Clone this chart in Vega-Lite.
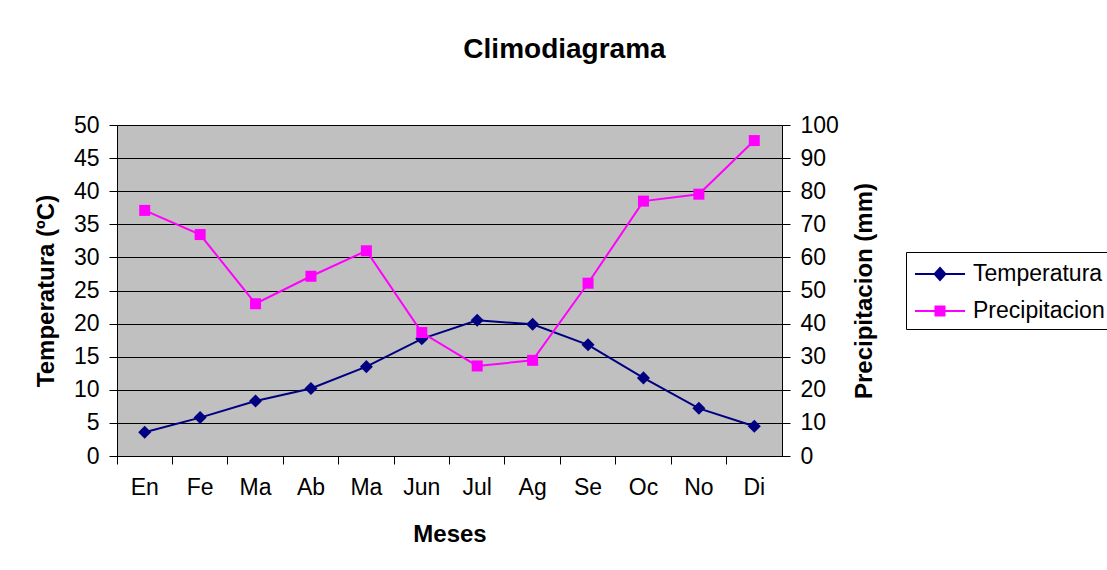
{
  "$schema": "https://vega.github.io/schema/vega-lite/v6.json",
  "autosize": "none",
  "width": 665,
  "height": 331,
  "padding": {"left": 117, "top": 125, "right": 325, "bottom": 114},
  "background": "white",
  "title": {"text": "Climodiagrama", "fontSize": 28, "fontWeight": "bold", "font": "Liberation Sans", "color": "black", "anchor": "middle", "frame": "group", "dx": 115, "offset": 50},
  "data": {"values": [
    {"mes": "En", "temperatura": 3.6, "precipitacion": 74.2},
    {"mes": "Fe", "temperatura": 5.8, "precipitacion": 66.9},
    {"mes": "Mar", "temperatura": 8.3, "precipitacion": 46.0},
    {"mes": "Ab", "temperatura": 10.2, "precipitacion": 54.3},
    {"mes": "May", "temperatura": 13.5, "precipitacion": 62.0},
    {"mes": "Jun", "temperatura": 17.7, "precipitacion": 37.3},
    {"mes": "Jul", "temperatura": 20.5, "precipitacion": 27.2},
    {"mes": "Ag", "temperatura": 19.9, "precipitacion": 28.9},
    {"mes": "Se", "temperatura": 16.8, "precipitacion": 52.2},
    {"mes": "Oc", "temperatura": 11.8, "precipitacion": 77.0},
    {"mes": "No", "temperatura": 7.2, "precipitacion": 79.1},
    {"mes": "Di", "temperatura": 4.5, "precipitacion": 95.3}
  ]},
  "encoding": {
    "x": {
      "field": "mes", "type": "ordinal", "sort": null, "bandPosition": 0.5,
      "scale": {"type": "band", "paddingInner": 0, "paddingOuter": 0},
      "axis": {
        "title": "Meses", "bandPosition": 0, "labelAngle": 0, "labelOffset": 0,
        "labelExpr": "datum.label == 'Mar' || datum.label == 'May' ? 'Ma' : datum.label",
        "tickSize": 8, "labelPadding": 12, "titlePadding": 23
      }
    }
  },
  "layer": [
    {
      "encoding": {
        "y": {
          "field": "temperatura", "type": "quantitative",
          "scale": {"domain": [0, 50], "nice": false, "zero": true},
          "axis": {
            "orient": "left", "title": "Temperatura (ºC)",
            "values": [0, 5, 10, 15, 20, 25, 30, 35, 40, 45, 50],
            "grid": true, "gridColor": "black", "gridOpacity": 1, "gridWidth": 1,
            "tickSize": 8, "labelPadding": 10, "titlePadding": 15
          }
        },
        "color": {
          "datum": "Temperatura",
          "scale": {"domain": ["Temperatura", "Precipitacion"], "range": ["#000080", "#FF00FF"]},
          "legend": {
            "title": null,
            "encode": {
              "symbols": {
                "update": {
                  "shape": {"signal": "datum.value == 'Temperatura' ? 'M-1.67,0H1.67M0,-0.4L0.36,0L0,0.4L-0.36,0Z' : 'M-1.67,0H1.67M-0.3,-0.3H0.3V0.3H-0.3Z'"},
                  "fill": {"signal": "scale('color', datum.value)"},
                  "stroke": {"signal": "scale('color', datum.value)"},
                  "strokeWidth": {"value": 2},
                  "opacity": {"value": 1}
                }
              }
            }
          }
        }
      },
      "layer": [
        {"mark": {"type": "line", "strokeWidth": 2}},
        {"mark": {"type": "point", "shape": "diamond", "filled": true, "size": 170, "opacity": 1}}
      ]
    },
    {
      "encoding": {
        "y": {
          "field": "precipitacion", "type": "quantitative",
          "scale": {"domain": [0, 100], "nice": false, "zero": true},
          "axis": {
            "orient": "right", "title": "Precipitacion (mm)",
            "values": [0, 10, 20, 30, 40, 50, 60, 70, 80, 90, 100],
            "grid": false, "tickSize": 8, "labelPadding": 10, "titlePadding": 38, "titleAngle": 270
          }
        },
        "color": {"datum": "Precipitacion"}
      },
      "layer": [
        {"mark": {"type": "line", "strokeWidth": 2}},
        {"mark": {"type": "point", "shape": "square", "filled": true, "size": 121, "opacity": 1}}
      ]
    }
  ],
  "resolve": {"scale": {"y": "independent"}},
  "config": {
    "font": "Liberation Sans",
    "view": {"fill": "#C0C0C0", "stroke": "#808080"},
    "axis": {
      "labelFont": "Liberation Sans", "labelFontSize": 23, "labelColor": "black",
      "titleFont": "Liberation Sans", "titleFontSize": 24, "titleFontWeight": "bold", "titleColor": "black",
      "domainColor": "black", "tickColor": "black", "domainWidth": 1, "tickWidth": 1
    },
    "legend": {
      "orient": "none", "legendX": 789, "legendY": 127,
      "strokeColor": "black", "fillColor": "white", "padding": 6,
      "symbolSize": 900, "symbolOffset": 12, "labelOffset": 17, "rowPadding": 9,
      "labelFont": "Liberation Sans", "labelFontSize": 23, "labelColor": "black", "labelLimit": 300
    }
  }
}
